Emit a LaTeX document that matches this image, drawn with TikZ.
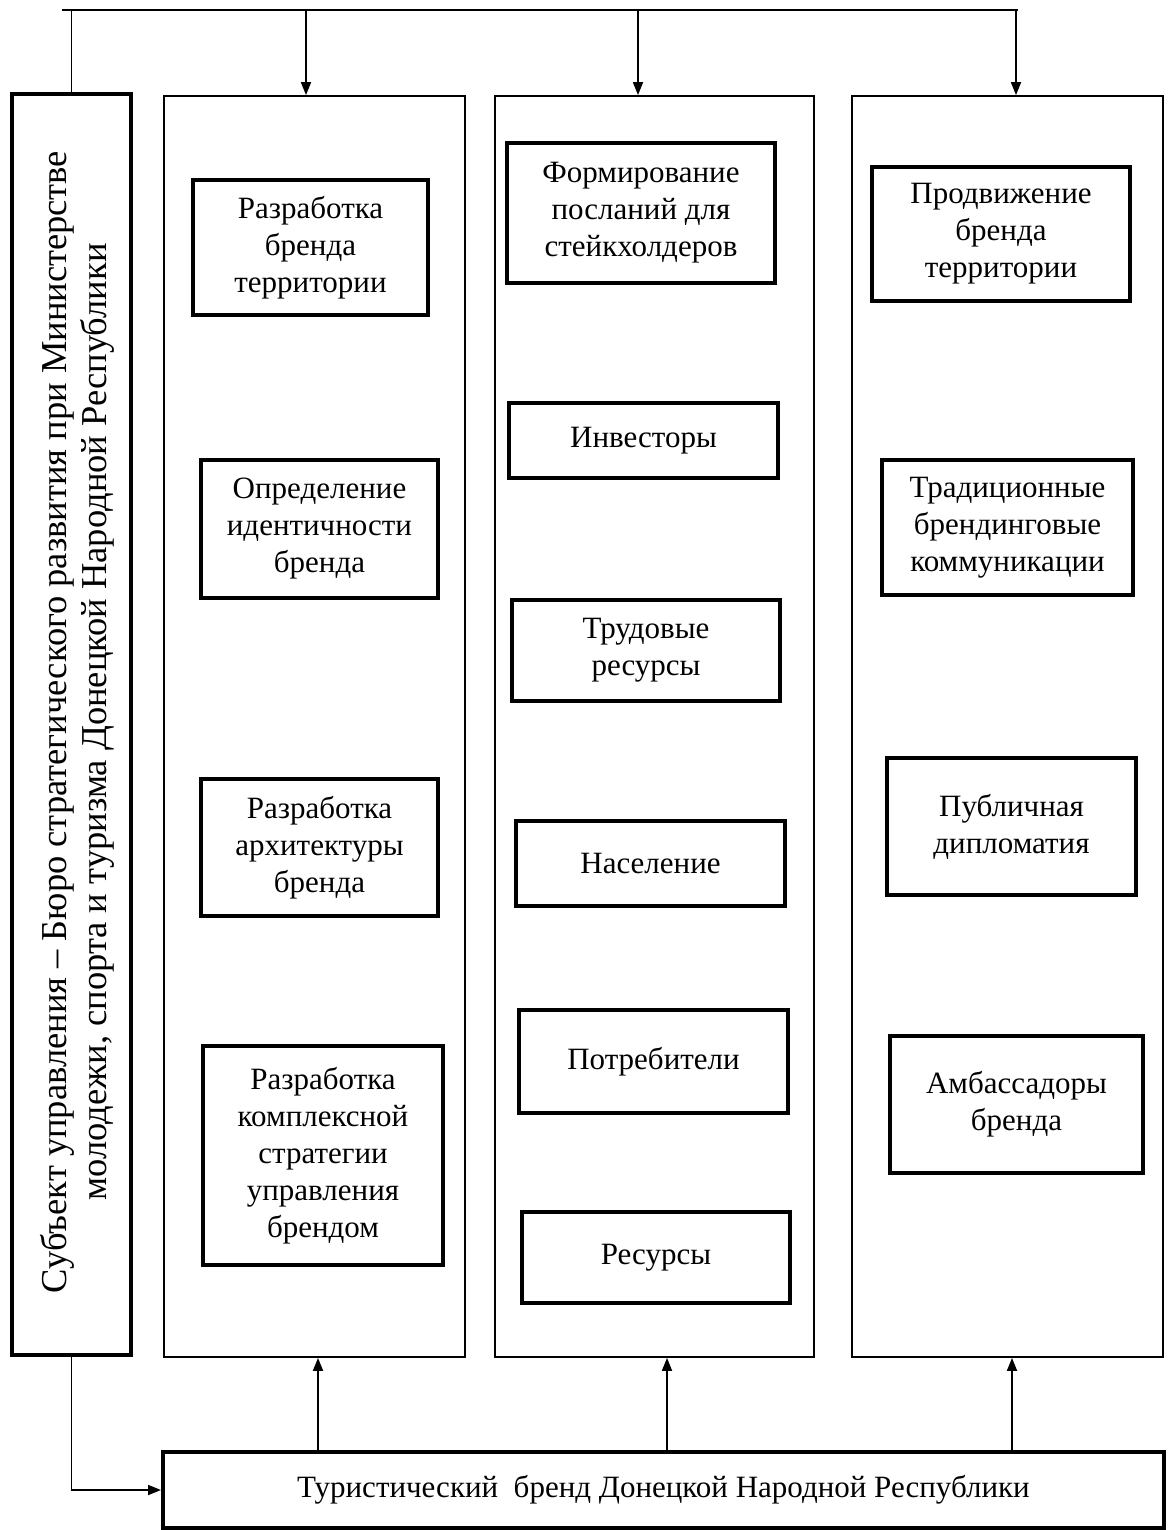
\documentclass[tikz,border=0pt]{standalone}
\usepackage{fontspec}
\setmainfont{Liberation Serif}
\usetikzlibrary{arrows.meta}
\tikzset{
  ln/.style={line width=1.8pt, draw=black},
  arr/.style={ln, -{Triangle[length=13pt,width=10pt]}},
  colbox/.style={draw=black, line width=1.8pt, rectangle, inner sep=0pt},
  ibox/.style={draw=black, line width=3.2pt, rectangle, align=center, inner sep=2pt,
    font=\fontsize{31}{37}\selectfont},
  bigbox/.style={draw=black, line width=4pt, rectangle, align=center, inner sep=0pt}
}
\begin{document}
\begin{tikzpicture}[x=1pt,y=-1pt]
\useasboundingbox (0,0) rectangle (1168,1530);
\fill[white] (0,0) rectangle (1168,1530);
% left subject box
\node[bigbox, minimum width=119pt, minimum height=1261pt] (lbox) at (71.5,724.5) {};
\node[rotate=90, align=center, font=\fontsize{36.5}{40}\selectfont] (ltext) at (77,722)
  {Субъект управления – Бюро стратегического развития при Министерстве\\
   молодежи, спорта и туризма Донецкой Народной Республики};
% columns
\node[colbox, minimum width=301pt, minimum height=1261pt] (col1) at (314.5,726.5) {};
\node[colbox, minimum width=319pt, minimum height=1261pt] (col2) at (654.5,726.5) {};
\node[colbox, minimum width=311pt, minimum height=1261pt] (col3) at (1007.5,726.5) {};
% bottom box
\node[bigbox, minimum width=1001pt, minimum height=76pt, font=\fontsize{31}{37}\selectfont] (bbox) at (663.5,1490)
  {Туристический\ \ бренд Донецкой Народной Республики};
% column 1 boxes
\node[ibox, minimum width=235pt, minimum height=135pt] (a1) at (310.5,247.5) {Разработка\\бренда\\территории};
\node[ibox, minimum width=237pt, minimum height=138pt] (a2) at (319.5,529) {Определение\\идентичности\\бренда};
\node[ibox, minimum width=237pt, minimum height=137pt] (a3) at (319.5,847.5) {Разработка\\архитектуры\\бренда};
\node[ibox, minimum width=240pt, minimum height=219pt] (a4) at (323,1155.5) {Разработка\\комплексной\\стратегии\\управления\\брендом};
% column 2 boxes
\node[ibox, minimum width=268pt, minimum height=140pt] (b1) at (641,213) {Формирование\\посланий для\\стейкхолдеров};
\node[ibox, minimum width=269pt, minimum height=75pt] (b2) at (643.5,440.5) {Инвесторы};
\node[ibox, minimum width=268pt, minimum height=101pt] (b3) at (646,650.5) {Трудовые\\ресурсы};
\node[ibox, minimum width=269pt, minimum height=85pt] (b4) at (650.5,863.5) {Население};
\node[ibox, minimum width=269pt, minimum height=103pt] (b5) at (653.5,1061.5) {Потребители};
\node[ibox, minimum width=268pt, minimum height=91pt] (b6) at (656,1257.5) {Ресурсы};
% column 3 boxes
\node[ibox, minimum width=258pt, minimum height=134pt] (c1) at (1001,234) {Продвижение\\бренда\\территории};
\node[ibox, minimum width=251pt, minimum height=135pt] (c2) at (1007.5,527.5) {Традиционные\\брендинговые\\коммуникации};
\node[ibox, minimum width=249pt, minimum height=137pt] (c3) at (1011.5,826.5) {Публичная\\дипломатия};
\node[ibox, minimum width=253pt, minimum height=137pt] (c4) at (1016.5,1104.5) {Амбассадоры\\бренда};
% top distribution line
\coordinate (tl) at (62,10);
\coordinate (tr) at (1018,10);
\coordinate (j1) at (306,10);
\coordinate (j2) at (638,10);
\coordinate (j3) at (1016,10);
\draw[ln] (tl) -- (tr);
\draw[ln] (lbox.north) -- (lbox.north |- tl);
\draw[arr] (j1) -- (j1 |- col1.north);
\draw[arr] (j2) -- (j2 |- col2.north);
\draw[arr] (j3) -- (j3 |- col3.north);
% bottom connections
\draw[arr] (lbox.south) |- (bbox.west);
\coordinate (u1) at (318,1452);
\coordinate (u2) at (667,1452);
\coordinate (u3) at (1012,1452);
\draw[arr] (u1) -- (u1 |- col1.south);
\draw[arr] (u2) -- (u2 |- col2.south);
\draw[arr] (u3) -- (u3 |- col3.south);
\end{tikzpicture}
\end{document}
